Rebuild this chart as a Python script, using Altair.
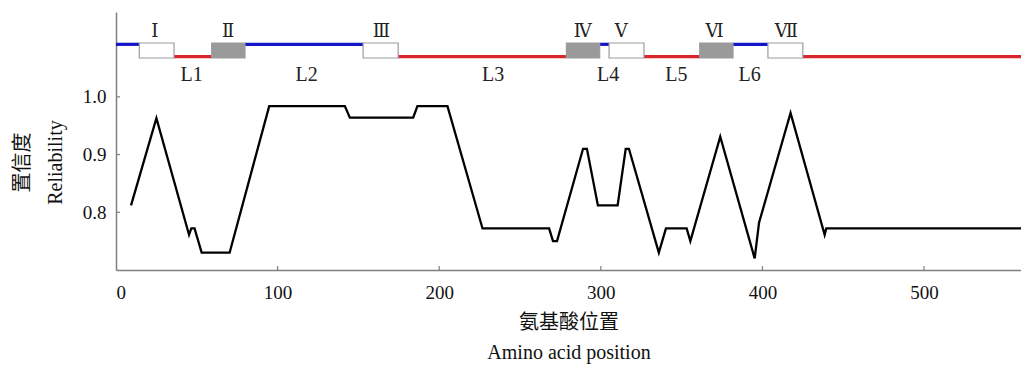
import altair as alt
import pandas as pd

# ---- reliability curve (amino acid position, reliability) ----
positions = [9.3, 25.0, 45.2, 46.6, 48.6, 53.0, 70.3, 94.8, 141.6, 144.7, 183.9, 186.5,
             205.1, 226.8, 268.0, 270.4, 272.9, 289.0, 291.4, 298.2, 310.4, 315.4, 317.4,
             335.9, 340.3, 353.1, 355.4, 373.9, 395.2, 397.9, 417.4, 438.5, 439.5, 560.0]
reliability = [0.812, 0.963, 0.761, 0.772, 0.772, 0.730, 0.730, 0.984, 0.984, 0.964, 0.964, 0.984,
               0.984, 0.772, 0.772, 0.750, 0.750, 0.910, 0.910, 0.812, 0.812, 0.910, 0.910,
               0.730, 0.772, 0.772, 0.750, 0.931, 0.720, 0.782, 0.972, 0.761, 0.772, 0.772]

# ---- topology track ----
seg_start = [0, 35.9, 79.8, 174.6, 299.3, 326.7, 381.8, 425.0]
seg_end = [14.4, 59.2, 152.9, 278.7, 305.1, 361.2, 403.4, 560.0]
seg_side = ["high", "low", "high", "low", "high", "low", "high", "low"]

box_names = ["Ⅰ", "Ⅱ", "Ⅲ", "Ⅳ", "Ⅴ", "Ⅵ", "Ⅶ"]
box_start = [14.4, 59.2, 152.9, 278.7, 305.1, 361.2, 403.4]
box_end = [35.9, 79.8, 174.6, 299.3, 326.7, 381.8, 425.0]
box_kind = ["open", "filled", "open", "filled", "open", "filled", "open"]
box_label_x = [24.0, 69.3, 164.3, 288.8, 312.7, 370.4, 414.8]

loop_names = ["L1", "L2", "L3", "L4", "L5", "L6"]
loop_label_x = [46.8, 117.9, 233.3, 304.5, 346.7, 392.1]

x_ticks = [0, 100, 200, 300, 400, 500]
y_ticks = [0.8, 0.9, 1.0]

# ---- layout constants (track levels in the reliability scale) ----
Y_DOMAIN = [0.7, 1.147]
X_DOMAIN = [0, 560]
LEVEL = {"high": 1.091, "low": 1.0696}
BOX_TOP, BOX_BOTTOM = 1.0933, 1.0673
ROMAN_Y, LOOP_Y = 1.1123, 1.0378
W, H = 905, 258
FONT = "'Liberation Serif', 'Noto Sans CJK SC'"
ROMAN_FONT = "'DejaVu Serif', 'Liberation Serif'"

curve = pd.DataFrame({"pos": positions, "rel": reliability})
segs = pd.DataFrame({"x0": seg_start, "x1": seg_end, "side": seg_side})
segs["lvl"] = segs["side"].map(LEVEL)
boxes = pd.DataFrame({"x0": box_start, "x1": box_end, "kind": box_kind})
roman = pd.DataFrame({"x": box_label_x, "t": box_names})
loops = pd.DataFrame({"x": loop_label_x, "t": loop_names})
xt = pd.DataFrame({"x": x_ticks[1:]})
yt = pd.DataFrame({"y": y_ticks})

xscale = alt.Scale(domain=X_DOMAIN, nice=False, zero=False)
yscale = alt.Scale(domain=Y_DOMAIN, nice=False, zero=False)

line = alt.Chart(curve).mark_line(color="black", strokeWidth=2.3).encode(
    x=alt.X("pos:Q", scale=xscale,
            axis=alt.Axis(values=x_ticks, format="d", labelPadding=13,
                          title=["氨基酸位置", "Amino acid position"],
                          titlePadding=10, titleLineHeight=30)),
    y=alt.Y("rel:Q", scale=yscale,
            axis=alt.Axis(values=y_ticks, format=".1f", labelPadding=10,
                          title=["置信度", "Reliability"], titleLineHeight=33,
                          titleX=-88, titleY=150, titleBaseline="alphabetic",
                          titleAngle=270, titleAlign="center")),
)

seg_layer = alt.Chart(segs).mark_rule(strokeWidth=3.2).encode(
    x="x0:Q", x2="x1:Q", y="lvl:Q",
    color=alt.Color("side:N", scale=alt.Scale(domain=["high", "low"],
                                               range=["#1414c8", "#d9252e"]), legend=None),
)

box_layer = alt.Chart(boxes).mark_rect(stroke="#9b9b9b", strokeWidth=1.2).encode(
    x="x0:Q", x2="x1:Q", y=alt.datum(BOX_TOP), y2=alt.datum(BOX_BOTTOM),
    fill=alt.Fill("kind:N", scale=alt.Scale(domain=["open", "filled"],
                                            range=["#ffffff", "#9a9a9a"]), legend=None),
)

roman_layer = alt.Chart(roman).mark_text(fontSize=18, baseline="middle", font=ROMAN_FONT,
                                         color="#222222").encode(
    x="x:Q", y=alt.datum(ROMAN_Y), text="t:N")

loop_layer = alt.Chart(loops).mark_text(fontSize=20, baseline="middle", font=FONT,
                                        color="#222222").encode(
    x="x:Q", y=alt.datum(LOOP_Y), text="t:N")

xtick_layer = alt.Chart(xt).mark_rule(color="#7f7f7f", strokeWidth=1.2).encode(
    x="x:Q", y=alt.value(H), y2=alt.value(H - 4))
ytick_layer = alt.Chart(yt).mark_rule(color="#7f7f7f", strokeWidth=1.2).encode(
    y="y:Q", x=alt.value(0), x2=alt.value(4))

chart = alt.layer(line, seg_layer, box_layer, roman_layer, loop_layer,
                  xtick_layer, ytick_layer).properties(
    width=W, height=H,
    autosize=alt.AutoSizeParams(type="none"),
    padding={"left": 108, "top": 4, "right": 0, "bottom": 95},
).configure(font=FONT).configure_view(stroke=None).configure_axis(
    grid=False, ticks=False, domainColor="#7f7f7f", domainWidth=1.5,
    labelFont=FONT, labelFontSize=19, labelColor="#111111",
    titleFont=FONT, titleFontSize=20, titleFontWeight="normal", titleColor="#111111",
)

chart.save("out.html", embed_options={"renderer": "svg", "actions": False})
